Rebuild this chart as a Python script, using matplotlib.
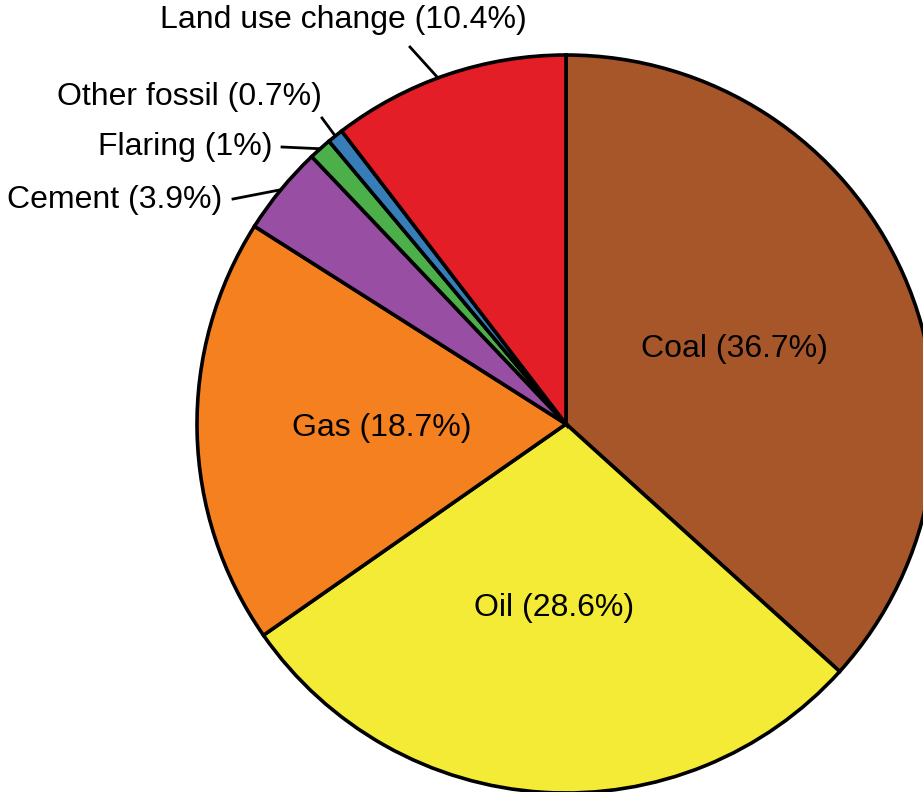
import matplotlib
matplotlib.use("Agg")
import matplotlib.pyplot as plt
import numpy as np

plt.rcParams["font.family"] = ["Liberation Sans", "DejaVu Sans"]

CATEGORIES = ["Coal", "Oil", "Gas", "Cement", "Flaring", "Other fossil", "Land use change"]
SHARES     = [36.7, 28.6, 18.7, 3.9, 1, 0.7, 10.4]
SHARE_TXT  = ["36.7", "28.6", "18.7", "3.9", "1", "0.7", "10.4"]
COLORS     = ["#A65628", "#F3EB35", "#F58020", "#984EA3", "#4DAF4A", "#377EB8", "#E41E26"]

W, H = 923, 792
CX, CY, R = 566, H - 424, 369

fig = plt.figure(figsize=(W / 100, H / 100), dpi=100)
ax = fig.add_axes([0, 0, 1, 1])

wedges, _ = ax.pie(SHARES, colors=COLORS, startangle=90, counterclock=False,
                   center=(CX, CY), radius=R,
                   wedgeprops=dict(edgecolor="black", linewidth=2.6))
ax.set_xlim(0, W)
ax.set_ylim(0, H)
ax.set_aspect("equal")
ax.axis("off")

FS = 23

# inside labels for the big slices
for w, cat, s in zip(wedges[:3], CATEGORIES[:3], SHARE_TXT[:3]):
    mid = np.deg2rad((w.theta1 + w.theta2) / 2)
    ax.text(CX + 0.5 * R * np.cos(mid), CY + 0.5 * R * np.sin(mid),
            f"{cat} ({s}%)", ha="center", va="center", fontsize=FS)

# outside labels with leader lines (text anchor, line start)
outside = {
    "Cement":          ((222, H - 200), (233, H - 199), "right"),
    "Flaring":         ((272, H - 147), (282, H - 147), "right"),
    "Other fossil":    ((322, H - 97),  (322, H - 118), "right"),
    "Land use change": ((343, H - 20),  (410, H - 47),  "center"),
}
for w, cat, s in zip(wedges[3:], CATEGORIES[3:], SHARE_TXT[3:]):
    (tx, ty), (lx, ly), ha = outside[cat]
    mid = np.deg2rad((w.theta1 + w.theta2) / 2)
    if cat == "Land use change":
        mid = np.deg2rad(110.3)
    ex, ey = CX + R * np.cos(mid), CY + R * np.sin(mid)
    ax.plot([lx, ex], [ly, ey], color="black", lw=2)
    ax.text(tx, ty, f"{cat} ({s}%)", ha=ha, va="center", fontsize=FS)

fig.savefig("out.png", dpi=100)
